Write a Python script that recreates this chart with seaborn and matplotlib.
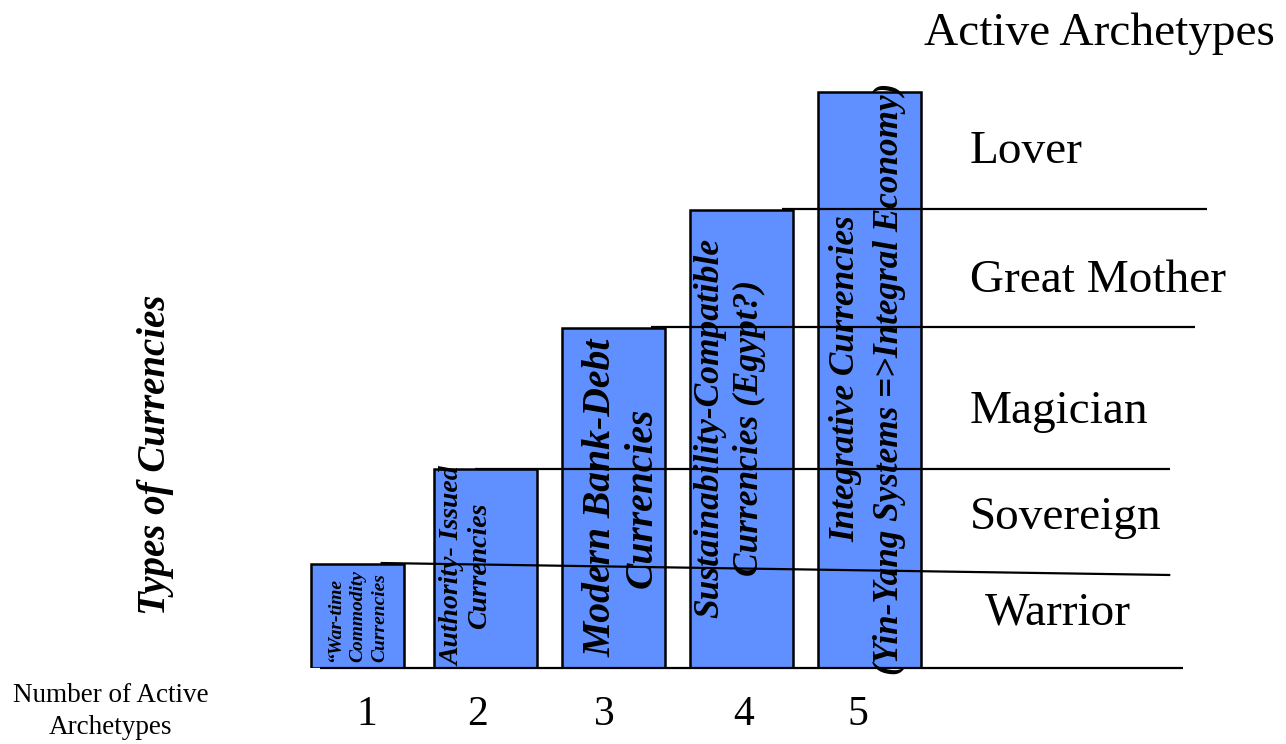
import matplotlib
matplotlib.use("Agg")
import matplotlib.pyplot as plt
import seaborn as sns
import pandas as pd

# ---- data ----
archetype_counts = ["1", "2", "3", "4", "5"]
bar_heights = [1.04, 1.99, 3.40, 4.58, 5.76]
bar_labels = [
    "\u201cWar-time\nCommodity\nCurrencies",
    "Authority- Issued\nCurrencies",
    "Modern Bank-Debt\nCurrencies",
    "Sustainability-Compatible\nCurrencies (Egypt?)",
    "Integrative Currencies\n(Yin-Yang Systems =>Integral Economy)",
]
archetypes = ["Warrior", "Sovereign", "Magician", "Great Mother", "Lover"]
# boundary levels between archetype bands (start level, end level)
boundary_levels = [(0.0, 0.0), (1.05, 0.93), (1.99, 1.99), (3.41, 3.41), (4.59, 4.59)]

# ---- layout (positions / styles) ----
boundary_x = [(-0.29, 6.45), (0.18, 6.35), (0.92, 6.35), (2.29, 6.54), (3.32, 6.64)]
archetype_label_pos = [(4.90, 0.55), (4.785, 1.50), (4.785, 2.56), (4.785, 3.87), (4.785, 5.16)]
tick_pos = [0.07, 0.94, 1.93, 3.02, 3.91]
bar_text_style = [
    dict(x=0.004, y=0.06, size=14, ls=1.4, va="bottom", ma="left"),
    dict(x=0.848, y=1.02, size=20, ls=1.1, va="center", ma="center"),
    dict(x=2.066, y=1.70, size=28.5, ls=1.15, va="center", ma="center"),
    dict(x=2.910, y=2.40, size=25.5, ls=1.25, va="center", ma="center"),
    dict(x=3.988, y=2.89, size=25.3, ls=1.43, va="center", ma="center"),
]
BAR_COLOR = "#6090FF"
SERIF = ["Liberation Serif", "DejaVu Serif"]

sns.set_theme(style="white")
plt.rcParams["font.family"] = SERIF
plt.rcParams["text.color"] = "black"
plt.rcParams["xtick.color"] = "black"
plt.rcParams["xtick.labelcolor"] = "black"

fig = plt.figure(figsize=(12.86, 7.44), dpi=100)
ax = fig.add_axes([0, 76 / 744, 1, 668 / 744])

df = pd.DataFrame({"count": archetype_counts, "height": bar_heights})
sns.barplot(data=df, x="count", y="height", color=BAR_COLOR, saturation=1,
            edgecolor="black", linewidth=1.8, width=0.8, ax=ax, zorder=2)

# first bar is drawn a little narrower in the original
p0 = ax.patches[0]
c0 = p0.get_x() + p0.get_width() / 2
p0.set_width(0.72)
p0.set_x(c0 - 0.36)

ax.set_xlim(-357.5 / 128, (1286 - 357.5) / 128)
ax.set_ylim(0, 6.68)
for s in ax.spines.values():
    s.set_visible(False)
ax.set_xlabel("")
ax.set_ylabel("")
ax.set_yticks([])
ax.set_xticks(tick_pos)
ax.set_xticklabels(archetype_counts)
ax.tick_params(axis="x", length=0, pad=20, labelsize=30, labelcolor="black")
for lab in ax.get_xticklabels():
    lab.set_fontfamily(SERIF)

# boundary lines
for (x0, x1), (y0, y1) in zip(boundary_x, boundary_levels):
    ax.plot([x0, x1], [y0, y1], color="black", lw=1.6, zorder=3, clip_on=False,
            solid_capstyle="butt")

# bar texts
for txt, st in zip(bar_labels, bar_text_style):
    ax.text(st["x"], st["y"], txt, rotation=90, ha="center", va=st["va"],
            multialignment=st["ma"], fontsize=st["size"], linespacing=st["ls"],
            fontweight="bold", fontstyle="italic", family=SERIF, zorder=4,
            clip_on=False, color="black")

# archetype labels
for name, (x, y) in zip(archetypes, archetype_label_pos):
    ax.text(x, y, name, ha="left", va="center", fontsize=34, family=SERIF, color="black")

ax.text(4.429, 6.34, "Active Archetypes", ha="left", va="center", fontsize=34,
        family=SERIF, clip_on=False, color="black")
ax.text(-1.926, -0.435, "Number of Active\nArchetypes", ha="center", va="center",
        fontsize=19.5, family=SERIF, linespacing=1.4, clip_on=False, color="black")
ax.text(-1.582, 2.13, "Types of Currencies", rotation=90, ha="center", va="center",
        fontsize=28, fontweight="bold", fontstyle="italic", family=SERIF, color="black")

fig.savefig("out.png", dpi=100)
